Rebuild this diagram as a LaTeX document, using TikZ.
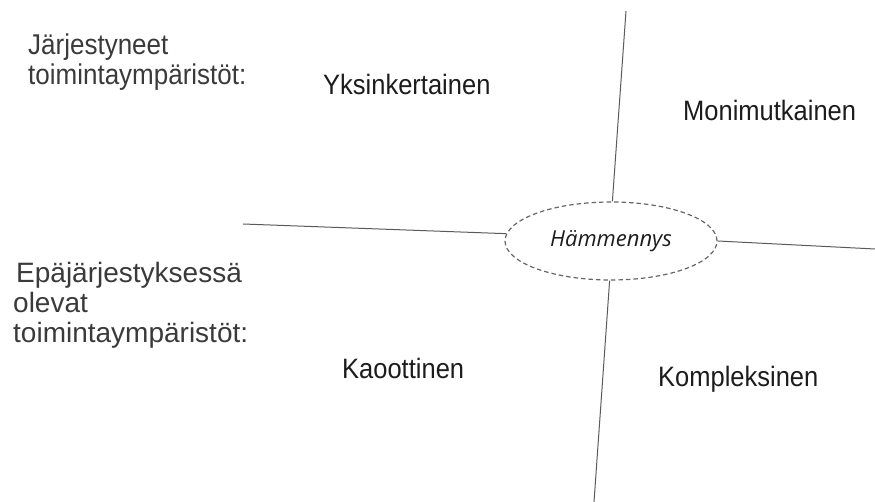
\documentclass[tikz,border=0pt]{standalone}
\usepackage{fontspec}
\usepackage{graphicx}
\usetikzlibrary{shapes.geometric}
\setmainfont{Liberation Sans}
\newfontfamily\ellfont{Open Sans}
\newcommand{\vstr}[1]{\scalebox{1}[1.1]{#1}}
\definecolor{txtdark}{HTML}{1C1C1C}
\definecolor{txtgrey}{HTML}{3A3A3A}
\definecolor{linegrey}{HTML}{5A5A5A}
\definecolor{dashgrey}{HTML}{666666}
\begin{document}
\begin{tikzpicture}[x=1pt,y=-1pt,
  quad/.style={anchor=base west,inner sep=0pt,text=txtdark,font=\fontsize{25.5}{29}\selectfont},
  side/.style={anchor=base west,inner sep=0pt,text=txtgrey,font=\fontsize{26}{30}\selectfont},
  sidebig/.style={anchor=base west,inner sep=0pt,text=txtgrey,font=\fontsize{28}{30}\selectfont},
  axis/.style={draw=linegrey,line width=1pt},
  cloud/.style={ellipse,draw=dashgrey,dash pattern=on 4.5pt off 3pt,line width=1.2pt,minimum width=212pt,minimum height=78pt,inner sep=0pt,
    font=\ellfont\itshape\fontsize{22}{26}\selectfont,text=txtdark}]
\useasboundingbox (0,0) rectangle (875,502);
% central ellipse
\node[cloud] (e) at (611,241) {Hämmennys};
% free ends of the axes
\coordinate (ttop) at (626,11);
\coordinate (tbot) at (594,502);
\coordinate (tleft) at (243,224);
\coordinate (tright) at (875,249);
\draw[axis] (ttop) -- (e.88);
\draw[axis] (e.-92) -- (tbot);
\draw[axis] (tleft) -- (e.176);
\draw[axis] (e.east) -- (tright);
% quadrant labels
\node[quad] (yks) at (323,95) {\vstr{Yksinkertainen}};
\node[quad] (mon) at (683,121) {\vstr{Monimutkainen}};
\node[quad] (kao) at (342,378) {\vstr{Kaoottinen}};
\node[quad] (kom) at (658,386) {\vstr{Kompleksinen}};
% side labels
\node[side] (jar1) at (28,55) {\vstr{Järjestyneet}};
\node[side] (jar2) at (28,85) {\vstr{toimintaympäristöt:}};
\node[sidebig] (epa1) at (16,283) {Epäjärjestyksessä};
\node[sidebig] (epa2) at (13,313) {olevat};
\node[sidebig] (epa3) at (13,343) {toimintaympäristöt:};
\end{tikzpicture}
\end{document}
